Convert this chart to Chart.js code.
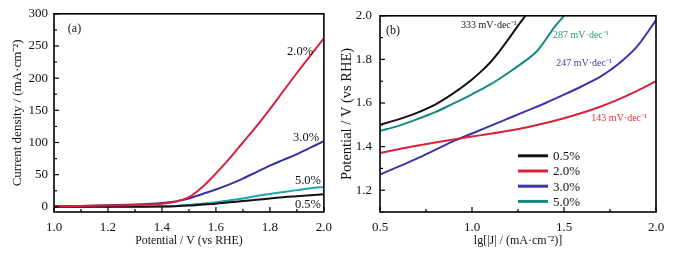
<!DOCTYPE html>
<html>
<head>
<meta charset="utf-8">
<script src="https://cdn.jsdelivr.net/npm/chart.js@4"></script>
<style>
  body { margin: 0; background: #fff; }
  #wrap { position: relative; width: 675px; height: 256px; }
  canvas { position: absolute; top: 0; }
  #chartA { left: 0; }
  #chartB { left: 335px; }
</style>
</head>
<body>
<div id="wrap">
  <canvas id="chartA" width="340" height="256"></canvas>
  <canvas id="chartB" width="340" height="256"></canvas>
</div>
<script>
// (a) polarisation curves
const potential = [1.0, 1.1, 1.2, 1.3, 1.4, 1.45, 1.5, 1.55, 1.6, 1.65, 1.7, 1.75, 1.8, 1.85, 1.9, 1.95, 2.0];
const j05 = [0, 0, 0, 0.3, 0.5, 1, 2, 3.5, 5, 7, 9, 11, 13, 15, 16.5, 18, 19.5];
const j20 = [1, 1.5, 2, 3, 5, 8, 15, 31, 52, 75, 100, 125, 152, 180, 208, 235, 262];
const j30 = [1, 1.5, 2.5, 3.5, 6, 8.5, 13, 20, 27, 35, 44, 54, 64, 73, 82, 92, 102];
const j50 = [0, 0, 0.3, 0.5, 1, 1.5, 3, 5, 7, 10, 13, 17, 20, 23, 26, 29, 31];

// (b) Tafel plots
const lg05 = [0.5, 0.6, 0.7, 0.8, 0.9, 1.0, 1.05, 1.1, 1.15, 1.2, 1.25, 1.29];
const e05 = [1.50, 1.525, 1.555, 1.593, 1.645, 1.708, 1.745, 1.787, 1.838, 1.895, 1.955, 2.0];
const lg20 = [0.5, 0.6, 0.7, 0.8, 0.9, 1.0, 1.1, 1.2, 1.3, 1.4, 1.5, 1.6, 1.7, 1.8, 1.9, 2.0];
const e20 = [1.37, 1.388, 1.404, 1.419, 1.433, 1.446, 1.459, 1.473, 1.489, 1.508, 1.53, 1.555, 1.584, 1.618, 1.657, 1.70];
const lg30 = [0.5, 0.6, 0.7, 0.8, 0.9, 1.0, 1.1, 1.2, 1.3, 1.4, 1.5, 1.6, 1.7, 1.75, 1.8, 1.9, 2.0];
const e30 = [1.272, 1.308, 1.345, 1.385, 1.425, 1.46, 1.495, 1.53, 1.565, 1.60, 1.638, 1.678, 1.722, 1.75, 1.782, 1.862, 1.98];
const lg50 = [0.5, 0.6, 0.7, 0.8, 0.9, 1.0, 1.1, 1.2, 1.3, 1.35, 1.4, 1.45, 1.5];
const e50 = [1.472, 1.495, 1.525, 1.558, 1.598, 1.64, 1.685, 1.74, 1.80, 1.835, 1.89, 1.95, 2.0];

const seriesNames = ['0.5%', '2.0%', '3.0%', '5.0%'];
const slopeLabels = ['333 mV\u00b7dec\u207b\u00b9', '143 mV\u00b7dec\u207b\u00b9', '247 mV\u00b7dec\u207b\u00b9', '287 mV\u00b7dec\u207b\u00b9'];

// tick labels
const xTicksA = [1.0, 1.2, 1.4, 1.6, 1.8, 2.0];
const xMinorA = [1.1, 1.3, 1.5, 1.7, 1.9];
const yTicksA = [0, 50, 100, 150, 200, 250, 300];
const yMinorA = [25, 75, 125, 175, 225, 275];
const xTicksB = [0.5, 1.0, 1.5, 2.0];
const xMinorB = [0.75, 1.25, 1.75];
const yTicksB = [1.2, 1.4, 1.6, 1.8, 2.0];
const yMinorB = [1.1, 1.3, 1.5, 1.7, 1.9];

const colA = ['#111111', '#d8213a', '#3333a0', '#1fa6ae'];
const colB = ['#111111', '#d8213a', '#3636a8', '#168a80'];
const serif = "'Liberation Serif', 'Times New Roman', serif";

const pts = (xs, ys) => xs.map((v, i) => ({ x: v, y: ys[i] }));

function line(label, data, color) {
  return {
    label, data,
    borderColor: color, backgroundColor: color,
    borderWidth: 2, pointRadius: 0,
    cubicInterpolationMode: 'monotone'
  };
}

// frame, inward ticks, curve labels, legend
const decor = {
  id: 'decor',
  afterDraw(chart, args, o) {
    const { ctx, chartArea: a, scales: { x, y } } = chart;
    ctx.save();
    ctx.strokeStyle = '#000';
    ctx.lineWidth = 1.2;
    const mark = (axis, vals, len) => vals.forEach(v => {
      const p = axis.getPixelForValue(v);
      ctx.beginPath();
      if (axis === x) { ctx.moveTo(p, a.bottom); ctx.lineTo(p, a.bottom - len); }
      else { ctx.moveTo(a.left, p); ctx.lineTo(a.left + len, p); }
      ctx.stroke();
    });
    mark(x, o.xMajor, 5); mark(x, o.xMinor, 3);
    mark(y, o.yMajor, 5); mark(y, o.yMinor, 3);
    ctx.lineWidth = 1.6;
    ctx.strokeRect(a.left, a.top, a.right - a.left, a.bottom - a.top);

    ctx.textAlign = 'center';
    ctx.textBaseline = 'middle';
    o.labels.forEach(l => {
      ctx.font = l.size + 'px ' + serif;
      ctx.fillStyle = l.color;
      ctx.fillText(l.text, x.getPixelForValue(l.x), y.getPixelForValue(l.y));
    });

    if (o.legend) {
      ctx.font = '13px ' + serif;
      ctx.textAlign = 'left';
      chart.data.datasets.forEach((ds, i) => {
        const ly = a.top + 140 + i * 15.2;
        const lx = a.left + 138;
        ctx.strokeStyle = ds.borderColor;
        ctx.lineWidth = 3;
        ctx.beginPath(); ctx.moveTo(lx, ly); ctx.lineTo(lx + 30, ly); ctx.stroke();
        ctx.fillStyle = '#111';
        ctx.fillText(ds.label, lx + 35, ly + 1);
      });
    }
    ctx.restore();
  }
};

function axis(min, max, ticks, fmt, title, pad, size, titlePad, titleSize) {
  return {
    type: 'linear', min, max,
    afterBuildTicks: s => { s.ticks = ticks.map(v => ({ value: v })); },
    afterFit: s => { if (s.isHorizontal()) s.height = size; else s.width = size; },
    grid: { display: false, drawTicks: false },
    border: { display: false },
    ticks: { color: '#111', font: { family: serif, size: 13 }, padding: pad, callback: fmt, maxRotation: 0, autoSkip: false },
    title: { display: true, text: title, color: '#111', font: { family: serif, size: titleSize }, padding: titlePad }
  };
}

const one = v => v.toFixed(1);

new Chart(document.getElementById('chartA'), {
  type: 'line',
  data: {
    datasets: [
      line(seriesNames[1], pts(potential, j20), colA[1]),
      line(seriesNames[0], pts(potential, j05), colA[0]),
      line(seriesNames[3], pts(potential, j50), colA[3]),
      line(seriesNames[2], pts(potential, j30), colA[2])
    ]
  },
  options: {
    responsive: false,
    animation: false,
    layout: { padding: { top: 12, right: 15, left: 0, bottom: 0 } },
    plugins: {
      legend: { display: false },
      tooltip: { enabled: false },
      decor: {
        xMajor: xTicksA, xMinor: xMinorA, yMajor: yTicksA, yMinor: yMinorA,
        labels: [
          { text: '(a)', x: 1.076, y: 276, size: 12, color: '#111' },
          { text: '2.0%', x: 1.912, y: 241, size: 12.5, color: '#111' },
          { text: '3.0%', x: 1.934, y: 107, size: 12.5, color: '#111' },
          { text: '5.0%', x: 1.941, y: 41, size: 12.5, color: '#111' },
          { text: '0.5%', x: 1.941, y: 4, size: 12.5, color: '#111' }
        ]
      }
    },
    scales: {
      x: axis(1.0, 2.0, xTicksA, one, 'Potential / V (vs RHE)', 8, 44, { top: 0, bottom: 8 }, 11.8),
      y: axis(-8, 300, yTicksA, v => v, 'Current density / (mA\u00b7cm\u207b\u00b2)', 6, 54, { top: 10, bottom: 0 }, 13)
    }
  },
  plugins: [decor]
});

new Chart(document.getElementById('chartB'), {
  type: 'line',
  data: {
    datasets: [
      line(seriesNames[0], pts(lg05, e05), colB[0]),
      line(seriesNames[1], pts(lg20, e20), colB[1]),
      line(seriesNames[2], pts(lg30, e30), colB[2]),
      line(seriesNames[3], pts(lg50, e50), colB[3])
    ]
  },
  options: {
    responsive: false,
    animation: false,
    layout: { padding: { top: 12, right: 19, left: 0, bottom: 0 } },
    plugins: {
      legend: { display: false },
      tooltip: { enabled: false },
      decor: {
        xMajor: xTicksB, xMinor: xMinorB, yMajor: yTicksB, yMinor: yMinorB,
        legend: true,
        labels: [
          { text: '(b)', x: 0.571, y: 1.932, size: 12, color: '#111' },
          { text: slopeLabels[0], x: 1.092, y: 1.954, size: 10, color: '#111' },
          { text: slopeLabels[3], x: 1.592, y: 1.909, size: 10, color: '#2a9a6a' },
          { text: slopeLabels[2], x: 1.609, y: 1.780, size: 10, color: '#4040b0' },
          { text: slopeLabels[1], x: 1.800, y: 1.529, size: 10, color: '#e0303a' }
        ]
      }
    },
    scales: {
      x: axis(0.5, 2.0, xTicksB, one, 'lg[|J| / (mA\u00b7cm\u207b\u00b2)]', 8, 44, { top: 0, bottom: 8 }, 12),
      y: axis(1.1, 2.0, yTicksB, one, 'Potential / V (vs RHE)', 8, 45, { top: 3, bottom: 0 }, 14.5)
    }
  },
  plugins: [decor]
});
</script>
</body>
</html>
